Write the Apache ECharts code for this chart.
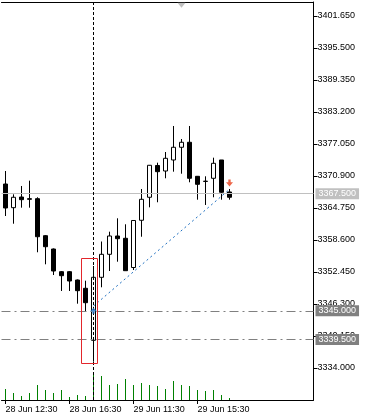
<!DOCTYPE html>
<html><head><meta charset="utf-8">
<script src="https://cdn.jsdelivr.net/npm/echarts@6/dist/echarts.min.js"></script>
<style>html,body{margin:0;padding:0;background:#fff}#c{width:365px;height:418px}</style>
</head><body><div id="c"></div>
<script>
const times = ['28 Jun 12:30','28 Jun 13:00','28 Jun 13:30','28 Jun 14:00','28 Jun 14:30','28 Jun 15:00','28 Jun 15:30','28 Jun 16:00','28 Jun 16:30','28 Jun 17:00','28 Jun 17:30','28 Jun 18:00','28 Jun 18:30','28 Jun 19:00','28 Jun 19:30','28 Jun 20:00','29 Jun 11:30','29 Jun 12:00','29 Jun 12:30','29 Jun 13:00','29 Jun 13:30','29 Jun 14:00','29 Jun 14:30','29 Jun 15:00','29 Jun 15:30','29 Jun 16:00','29 Jun 16:30','29 Jun 17:00','29 Jun 17:30'];
const futureSlots = ['29 Jun 18:00','29 Jun 18:30','29 Jun 19:00','29 Jun 19:30','29 Jun 20:00','29 Jun 20:30','29 Jun 21:00','29 Jun 21:30','29 Jun 22:00','29 Jun 22:30'];
const opens  = [3369.36,3364.81,3366.86,3366.54,3366.54,3359.43,3356.87,3352.51,3352.51,3350.91,3349.32,3339.32,3351.43,3355.85,3359.37,3358.93,3353.31,3362.39,3366.81,3372.92,3371.86,3373.98,3376.42,3377.38,3370.84,3369.90,3370.46,3373.98,3367.83];
const closes = [3364.75,3366.81,3366.35,3366.42,3359.23,3357.31,3352.64,3351.74,3350.72,3348.86,3346.55,3351.43,3355.85,3359.37,3358.85,3352.70,3362.35,3366.42,3372.96,3371.73,3374.30,3376.42,3377.38,3370.46,3369.30,3369.86,3373.34,3367.77,3366.81];
const lows   = [3363.21,3361.73,3364.81,3364.81,3356.24,3353.93,3351.87,3348.80,3348.80,3346.36,3344.82,3335.21,3349.51,3352.64,3354.43,3352.70,3352.83,3359.23,3364.88,3365.85,3370.46,3371.73,3371.34,3369.69,3366.35,3365.33,3366.81,3366.35,3366.35];
const highs  = [3371.86,3367.38,3368.98,3370.00,3366.81,3359.56,3356.97,3352.64,3352.64,3351.01,3350.78,3353.60,3358.31,3360.20,3362.77,3361.62,3362.35,3368.40,3373.01,3373.46,3375.51,3380.51,3378.01,3380.51,3370.90,3370.84,3374.42,3373.98,3368.40];
const volumes = [1100,700,400,700,1500,1000,700,1000,300,500,400,2600,2400,1500,1600,2100,1500,1700,1500,1400,1100,1900,1500,1400,1000,900,1000,500,200];
const priceTicks = [3334.000,3340.150,3346.300,3352.450,3358.600,3364.750,3370.900,3377.050,3383.200,3389.350,3395.500,3401.650];
const bidPrice = 3367.5;
const levelPrices = [3345.0, 3339.5];
const entryMark = [11, 3345.0];
const exitMark = [28, 3369.56];
const trendLine = [[11, 3345.9], [28, 3368.34]];
const selectionBox = [10, 11, 3334.96, 3355.14];
const cursorIndex = 11;
const shiftMarker = [22, 3403.7];

const FONT = "'Liberation Sans', Arial, sans-serif";
const FS = 9;
const nBars = times.length;
const cats = times.concat(futureSlots);
const candleData = opens.map((o, i) => [o, closes[i], lows[i], highs[i]]);
const fmt = v => Number(v).toFixed(3);

const chart = echarts.init(document.getElementById('c'), null, {renderer: 'canvas'});
chart.setOption({
  animation: false,
  backgroundColor: '#fff',
  grid: {left: 1.5, right: 51.5, top: 2, bottom: 18, outerBoundsMode: 'none', containLabel: false},
  xAxis: [{
    type: 'category', data: cats, boundaryGap: true, position: 'bottom',
    axisLine: {show: true, lineStyle: {color: '#000', width: 1}},
    axisTick: {show: true, alignWithLabel: true, length: 4, lineStyle: {color: '#000'},
      interval: (i) => i < nBars && i % 8 === 0},
    axisLabel: {show: true, interval: (i) => i < nBars && i % 8 === 0, align: 'left', margin: 5,
      color: '#000', fontFamily: FONT, fontSize: FS, padding: [0,0,0,0]},
    splitLine: {show: false}
  }, {
    type: 'category', data: cats, boundaryGap: true, position: 'top',
    axisLine: {show: true, lineStyle: {color: '#000', width: 1}},
    axisTick: {show: false}, axisLabel: {show: false}, splitLine: {show: false}
  }],
  yAxis: [{
    type: 'value', position: 'right', min: 3327.85, max: 3404.34, scale: true,
    axisLine: {show: true, lineStyle: {color: '#000', width: 1}},
    axisTick: {show: true, length: 4, customValues: priceTicks, lineStyle: {color: '#000'}},
    axisLabel: {show: true, customValues: priceTicks, formatter: fmt, margin: 4,
      color: '#000', fontFamily: FONT, fontSize: FS},
    splitLine: {show: false}
  }, {
    type: 'value', min: 0, max: 39800, show: false, splitLine: {show: false}
  }],
  series: [{
    type: 'bar', xAxisIndex: 0, yAxisIndex: 1, data: volumes, barWidth: 1,
    itemStyle: {color: '#008000'}, z: 1, silent: true
  }, {
    type: 'candlestick', xAxisIndex: 0, yAxisIndex: 0, data: candleData, barWidth: 4, clip: false,
    itemStyle: {color: '#fff', color0: '#000', borderColor: '#000', borderColor0: '#000', borderColorDoji: '#000', borderWidth: 1},
    z: 3,
    markLine: {
      silent: true, symbol: ['none', 'none'], animation: false,
      data: [
        {yAxis: bidPrice, lineStyle: {color: '#c0c0c0', type: 'solid', width: 1},
          label: {show: true, position: 'end', distance: 2, formatter: p => fmt(p.value), color: '#fff',
            backgroundColor: '#c0c0c0', padding: [1,3,1,3], fontFamily: FONT, fontSize: FS}},
        ...levelPrices.map(v => ({yAxis: v, lineStyle: {color: '#808080', type: [9,4,2,4], width: 1},
          label: {show: true, position: 'end', distance: 2, formatter: p => fmt(p.value), color: '#fff',
            backgroundColor: '#808080', padding: [1,3,1,3], fontFamily: FONT, fontSize: FS}})),
        {xAxis: cats[cursorIndex], lineStyle: {color: '#000', type: [3,2], width: 1}, label: {show: false}},
        [{coord: [cats[trendLine[0][0]], trendLine[0][1]], lineStyle: {color: '#1e6fc0', type: [2,3], width: 1}, label: {show: false}},
         {coord: [cats[trendLine[1][0]], trendLine[1][1]]}]
      ]
    }
  }, {
    type: 'custom', xAxisIndex: 0, yAxisIndex: 0, data: [selectionBox], z: 5, silent: true,
    encode: {x: [0, 1], y: [2, 3]},
    renderItem: (params, api) => {
      const p1 = api.coord([api.value(0), api.value(3)]);
      const p2 = api.coord([api.value(1), api.value(2)]);
      const bw = api.size([1, 0])[0];
      const x1 = Math.floor(p1[0] - bw / 2) + 0.5, x2 = Math.floor(p2[0] + bw / 2) + 0.5;
      const y1 = Math.floor(p1[1]) + 0.5, y2 = Math.floor(p2[1]) + 0.5;
      return {type: 'rect', shape: {x: x1, y: y1, width: x2 - x1, height: y2 - y1},
        style: {fill: 'none', stroke: '#e3262b', lineWidth: 1}};
    }
  }, {
    type: 'scatter', xAxisIndex: 0, yAxisIndex: 0, data: [entryMark], z: 6, silent: true,
    symbol: 'path://M3,0 L6,3 L4,3 L4,5 L2,5 L2,3 L0,3 Z', symbolSize: [7, 6],
    itemStyle: {color: '#1e6fc0'}
  }, {
    type: 'scatter', xAxisIndex: 0, yAxisIndex: 0, data: [exitMark], z: 6, silent: true,
    symbol: 'path://M2,0 L4,0 L4,2 L6,2 L3,5 L0,2 L2,2 Z', symbolSize: [7, 7],
    itemStyle: {color: '#e8401c'}
  }, {
    type: 'scatter', xAxisIndex: 0, yAxisIndex: 0, data: [shiftMarker], z: 6, silent: true,
    symbol: 'triangle', symbolRotate: 180, symbolSize: [8, 5],
    itemStyle: {color: '#b0b0b0'}
  }]
});
</script></body></html>
